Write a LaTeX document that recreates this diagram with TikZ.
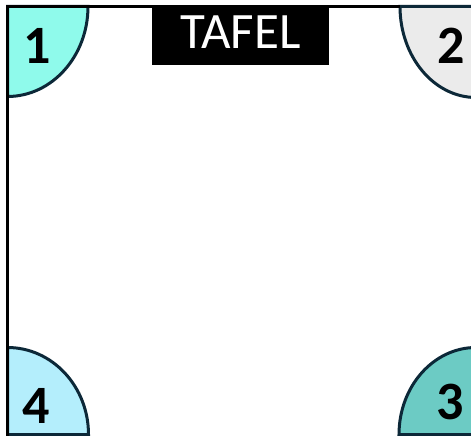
\documentclass[tikz,border=0pt]{standalone}
\usepackage{fontspec}
\setmainfont{Carlito}
\definecolor{seatone}{RGB}{143,250,235}
\definecolor{seattwo}{RGB}{235,235,235}
\definecolor{seatthree}{RGB}{108,203,196}
\definecolor{seatfour}{RGB}{180,238,252}
\definecolor{seatline}{RGB}{12,40,56}
\newcommand{\Seatfont}{\fontsize{54}{60}\selectfont\bfseries}
\newcommand{\Tafelfont}{\fontsize{51}{57}\selectfont}
\tikzstyle{seat}=[draw=seatline, line width=3pt]
\tikzstyle{seatnum}=[inner sep=0pt, font=\Seatfont]
\tikzstyle{wall}=[draw=black, line width=3pt]

\begin{document}
\begin{tikzpicture}[x=1pt,y=-1pt]
  \useasboundingbox (0,0) rectangle (471,436);
  \clip (0,0) rectangle (471,436);
  %% Corner seats
  \draw[seat,fill=seatone] (7.5,6.5) -- (88,6.5) arc[start angle=0,end angle=90,x radius=80.5,y radius=90] -- cycle;
  \draw[seat,fill=seattwo] (476,6.5) -- (400,6.5) arc[start angle=180,end angle=90,x radius=76,y radius=91] -- cycle;
  \draw[seat,fill=seatthree] (476,434.5) -- (399,434.5) arc[start angle=180,end angle=270,x radius=77,y radius=87] -- cycle;
  \draw[seat,fill=seatfour] (7.5,434.5) -- (88.5,434.5) arc[start angle=0,end angle=-90,x radius=81,y radius=87] -- cycle;

  %% Room
  \draw[wall] (7.5,440) -- (7.5,6.5) -- (400,6.5);

  \node[fill=black,text=white,inner sep=0pt,minimum width=177pt,minimum height=60pt,text depth=5pt,font=\Tafelfont] (tafel) at (240.5,35) {TAFEL};

  \node[seatnum] (s1) at (37,46) {1};
  \node[seatnum] (s2) at (451,46) {2};
  \node[seatnum] (s3) at (450,402) {3};
  \node[seatnum] (s4) at (36,406) {4};
\end{tikzpicture}
\end{document}
